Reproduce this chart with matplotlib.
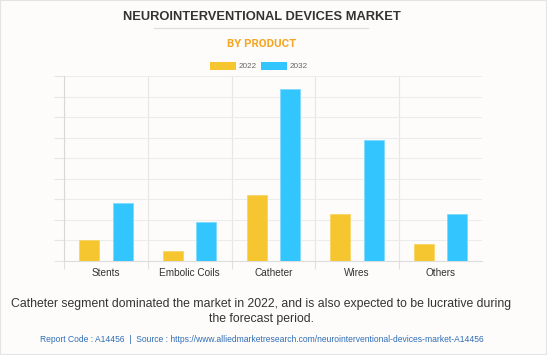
import numpy as np
import matplotlib
matplotlib.use('Agg')
import matplotlib.pyplot as plt
from matplotlib.patches import Rectangle
from matplotlib.lines import Line2D

# === DADOS ===
categorias = ['Stents', 'Embolic Coils', 'Catheter', 'Wires', 'Others']
anos = ['2022', '2032']
valores_2022 = [1.02, 0.47, 3.19, 2.27, 0.83]
valores_2032 = [2.83, 1.89, 8.38, 5.91, 2.27]

cor_2022 = '#F5C630'
cor_2032 = '#33C6FE'
fundo = '#FDFCFB'

W, H = 547, 355
cx = 261.5 / W  # centro dos textos
fig = plt.figure(figsize=(W / 100, H / 100), dpi=100)
fig.patch.set_facecolor(fundo)

# borda leve em volta da imagem
fig.add_artist(Rectangle((0, 0), 1, 1, transform=fig.transFigure, fill=False,
                         edgecolor='#e4e4e4', linewidth=1.5))

# === TÍTULOS ===
fig.text(cx, 1 - 17 / H, 'NEUROINTERVENTIONAL DEVICES MARKET', ha='center', va='center',
         fontsize=9.3, fontweight='bold', color='#333333', family='Liberation Sans')
fig.add_artist(Line2D([154 / W, 368 / W], [1 - 28 / H, 1 - 28 / H], color='#dddddd', linewidth=0.9))
fig.text(cx, 1 - 44 / H, 'BY PRODUCT', ha='center', va='center',
         fontsize=8.2, fontweight='bold', color='#F5A623', family='Roboto')

# === LEGENDA ===
for x0, cor, rotulo in [(210, cor_2022, anos[0]), (261, cor_2032, anos[1])]:
    fig.add_artist(Rectangle((x0 / W, 1 - 70 / H), 26 / W, 8 / H, transform=fig.transFigure,
                             facecolor=cor, edgecolor='none'))
    fig.text((x0 + 29) / W, 1 - 66 / H, rotulo, ha='left', va='center', fontsize=5.9,
             color='#666666', family='Liberation Sans')

# === GRÁFICO ===
esq, dir_, base, topo = 64.3, 482.3, 261, 76
ax = fig.add_axes([esq / W, 1 - base / H, (dir_ - esq) / W, (base - topo) / H])
ax.set_facecolor(fundo)

x = np.arange(len(categorias))
largura = 0.24
desloc = 0.2
ax.bar(x - desloc, valores_2022, largura, color=cor_2022, edgecolor='#F7D565', linewidth=0.6, zorder=3)
ax.bar(x + desloc, valores_2032, largura, color=cor_2032, edgecolor='#7FDBFF', linewidth=0.6, zorder=3)

ax.set_xlim(-0.5, len(categorias) - 0.5)
ax.set_ylim(0, 9)

ax.set_yticks(np.arange(0, 10))
ax.set_yticklabels([])
ax.tick_params(axis='y', length=7, color='#e6e6e6', width=0.8)
ax.grid(axis='y', color='#ececec', linewidth=0.8, zorder=0)

ax.set_xticks(x)
ax.set_xticklabels(categorias, fontsize=7.2, color='#333333', family='Liberation Sans')
ax.tick_params(axis='x', which='major', length=0, pad=5)
ax.set_xticks(np.arange(-0.5, len(categorias) - 1), minor=True)
ax.tick_params(axis='x', which='minor', length=6, color='#e0e0e0', width=0.8)
ax.grid(axis='x', which='minor', color='#e6e6e6', linewidth=0.8, zorder=0)

for lado in ['top', 'right']:
    ax.spines[lado].set_visible(False)
ax.spines['left'].set_color('#d8d8d8')
ax.spines['bottom'].set_color('#dddddd')
ax.spines['left'].set_linewidth(0.8)
ax.spines['bottom'].set_linewidth(0.8)

# === TEXTO INFERIOR ===
fig.text(cx, 1 - 304 / H, 'Catheter segment dominated the market in 2022, and is also expected to be lucrative during',
         ha='center', va='center', fontsize=8.8, color='#333333', family='Liberation Sans')
fig.text(cx, 1 - 319 / H, 'the forecast period.',
         ha='center', va='center', fontsize=8.8, color='#333333', family='Liberation Sans')
fig.text(cx, 1 - 340 / H,
         'Report Code : A14456  |  Source : https://www.alliedmarketresearch.com/neurointerventional-devices-market-A14456',
         ha='center', va='center', fontsize=6.15, color='#2F6DB5', family='Liberation Sans')

fig.savefig('out.png', dpi=100, facecolor=fundo)
